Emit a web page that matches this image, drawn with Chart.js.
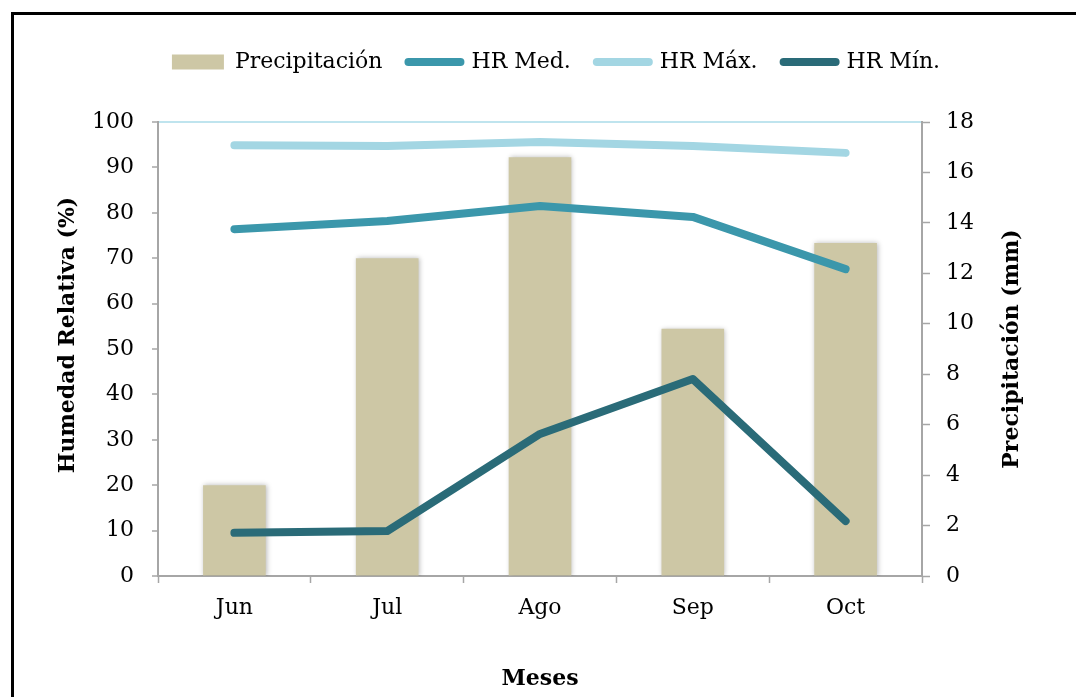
<!DOCTYPE html>
<html>
<head>
<meta charset="utf-8">
<script src="https://cdn.jsdelivr.net/npm/chart.js@4.4.1/dist/chart.umd.min.js"></script>
<style>
  html, body { margin: 0; padding: 0; background: #fff; }
  #wrap { position: relative; width: 1076px; height: 697px; overflow: hidden; }
  #frame {
    position: absolute; left: 11px; top: 12px; width: 1100px; height: 720px;
    border: 3px solid #000; pointer-events: none;
  }
</style>
</head>
<body>
<div id="wrap">
  <canvas id="chart" width="1076" height="697"></canvas>
  <div id="frame"></div>
</div>
<script>
// datos
const meses = ['Jun', 'Jul', 'Ago', 'Sep', 'Oct'];
const precipitacion = [3.6, 12.6, 16.6, 9.8, 13.2];   // mm, eje derecho
const hrMed = [76.4, 78.2, 81.5, 79.1, 67.6];          // %, eje izquierdo
const hrMax = [94.9, 94.7, 95.6, 94.7, 93.2];
const hrMin = [9.5, 9.9, 31.3, 43.4, 12.1];

const GRIS = '#a6a6a6';
const FUENTE = 'DejaVu Serif';
const TAM = 22;

Chart.defaults.font.family = FUENTE;
Chart.defaults.font.size = TAM;
Chart.defaults.color = '#000';

// sombra suave de las barras (como en Excel)
const sombraBarras = {
    id: 'sombraBarras',
    beforeDatasetDraw(chart, args) {
        if (args.meta.type !== 'bar') return;
        const ctx = chart.ctx;
        ctx.save();
        ctx.shadowColor = 'rgba(0,0,0,0.28)';
        ctx.shadowBlur = 5;
        ctx.shadowOffsetX = 1;
        ctx.shadowOffsetY = 0;
    },
    afterDatasetDraw(chart, args) {
        if (args.meta.type !== 'bar') return;
        chart.ctx.restore();
    }
};

// títulos verticales, ambos leídos de abajo hacia arriba como en el original
const titulosVerticales = {
    id: 'titulosVerticales',
    afterDraw(chart) {
        const { ctx, chartArea } = chart;
        const medio = (chartArea.top + chartArea.bottom) / 2;
        const pintar = (texto, x, y) => {
            ctx.save();
            ctx.translate(x, y);
            ctx.rotate(-Math.PI / 2);
            ctx.font = 'bold ' + TAM + 'px "' + FUENTE + '"';
            ctx.fillStyle = '#000';
            ctx.textAlign = 'center';
            ctx.textBaseline = 'middle';
            ctx.fillText(texto, 0, 0);
            ctx.restore();
        };
        pintar('Humedad Relativa (%)', 68, medio - 14);
        pintar('Precipitación (mm)', 1012, medio);
    }
};

const lineaBase = {
    type: 'line',
    yAxisID: 'y',
    borderWidth: 8,
    pointRadius: 0,
    pointHoverRadius: 0,
    tension: 0,
    borderCapStyle: 'round',
    borderJoinStyle: 'round',
    fill: false,
    order: 1
};

const datasets = [
    {
        type: 'bar',
        label: 'Precipitación',
        data: precipitacion,
        yAxisID: 'y1',
        backgroundColor: '#cdc7a5',
        borderWidth: 0,
        barPercentage: 0.41,
        categoryPercentage: 1,
        order: 10
    },
    { ...lineaBase, label: 'HR Med.', data: hrMed, borderColor: '#3b97ab', backgroundColor: '#3b97ab' },
    { ...lineaBase, label: 'HR Máx.', data: hrMax, borderColor: '#a3d6e3', backgroundColor: '#a3d6e3' },
    { ...lineaBase, label: 'HR Mín.', data: hrMin, borderColor: '#2a6b78', backgroundColor: '#2a6b78' }
];

new Chart(document.getElementById('chart'), {
    data: { labels: meses, datasets },
    plugins: [sombraBarras, titulosVerticales],
    options: {
        responsive: false,
        animation: false,
        // el margen izquierdo desplaza la leyenda hacia la derecha, como en el original
        layout: { padding: { top: 25, left: 36, right: 0, bottom: 0 } },
        plugins: {
            tooltip: { enabled: false },
            // separador vacío entre la leyenda y el área de trazado
            title: { display: true, text: '', weight: 500, font: { size: 10 }, padding: { top: 0, bottom: 27 } },
            legend: {
                position: 'top',
                align: 'center',
                labels: {
                    usePointStyle: true,
                    pointStyleWidth: 52,
                    boxHeight: 15,
                    padding: 26,
                    font: { size: TAM },
                    color: '#000',
                    generateLabels(chart) {
                        return chart.data.datasets.map((ds, i) => {
                            const esBarra = ds.type === 'bar';
                            return {
                                text: ds.label,
                                datasetIndex: i,
                                pointStyle: esBarra ? 'rect' : 'line',
                                fillStyle: esBarra ? ds.backgroundColor : ds.borderColor,
                                strokeStyle: esBarra ? 'rgba(0,0,0,0)' : ds.borderColor,
                                lineWidth: esBarra ? 0 : 8,
                                lineCap: 'round',
                                hidden: false,
                                fontColor: '#000'
                            };
                        });
                    }
                }
            }
        },
        scales: {
            x: {
                type: 'category',
                offset: true,
                grid: {
                    offset: true,
                    drawOnChartArea: false,
                    tickColor: GRIS,
                    tickLength: 7,
                    tickWidth: 1.5
                },
                border: { color: GRIS, width: 2 },
                ticks: { padding: 12, maxRotation: 0 },
                title: {
                    display: true,
                    text: 'Meses',
                    font: { size: TAM, weight: 'bold' },
                    padding: { top: 0, bottom: 5 }
                },
                afterFit(scale) { scale.height = 121; }
            },
            y: {
                position: 'left',
                min: 0,
                max: 100,
                ticks: { stepSize: 10, padding: 18 },
                grid: {
                    color: c => (c.tick && c.tick.value === 100 ? '#bfe4ee' : 'rgba(0,0,0,0)'),
                    lineWidth: 2,
                    tickColor: GRIS,
                    tickLength: 6,
                    tickWidth: 1.5
                },
                border: { color: GRIS, width: 2 },
                afterFit(scale) { scale.width = 122; }
            },
            y1: {
                position: 'right',
                min: 0,
                max: 18,
                ticks: { stepSize: 2, padding: 16 },
                grid: {
                    drawOnChartArea: false,
                    tickColor: GRIS,
                    tickLength: 8,
                    tickWidth: 1.5
                },
                border: { color: GRIS, width: 2 },
                afterFit(scale) { scale.width = 154; }
            }
        }
    }
});
</script>
</body>
</html>
